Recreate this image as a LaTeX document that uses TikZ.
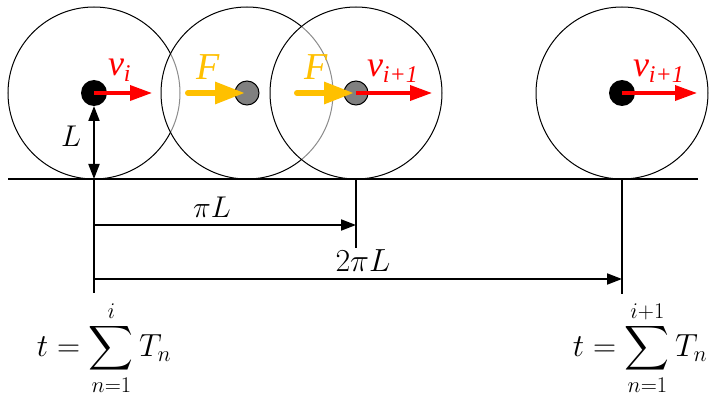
\documentclass[tikz,border=0pt]{standalone}
\usepackage{fix-cm}
\usepackage{amsmath}
\usepackage{fontspec}
\setmainfont{Liberation Serif}
\usetikzlibrary{arrows.meta}
\definecolor{vred}{RGB}{255,0,0}
\definecolor{fgold}{RGB}{255,192,0}
\newcommand{\vlabel}[1]{v\raisebox{-6pt}{\fontsize{24}{24}\selectfont #1}}
\newcommand{\bigsum}{\mathop{\vcenter{\hbox{\scalebox{1.25}{$\displaystyle\sum$}}}}\limits}

\begin{document}
\begin{tikzpicture}[x=1pt,y=-1pt,line width=2pt,>={Triangle[length=15pt,width=11pt]},
  wheel/.style={circle,draw,line width=1pt,inner sep=0pt,outer sep=0pt,minimum size=172pt,fill=white,fill opacity=0.55},
  mass/.style={circle,fill=black,inner sep=0pt,outer sep=0pt,minimum size=26pt},
  ghost/.style={circle,draw,line width=1pt,fill=gray,inner sep=0pt,minimum size=24pt},
  vel/.style={vred,line width=3.5pt,-{Triangle[length=22pt,width=15pt]}},
  force/.style={fgold,line width=6pt,line cap=round,-{Triangle[length=30pt,width=21pt]}},
  vlab/.style={vred,anchor=base west,inner sep=0pt,font=\fontsize{36}{40}\selectfont\itshape},
  flab/.style={fgold,anchor=base west,inner sep=0pt,font=\fontsize{38}{40}\selectfont\itshape},
  mlab/.style={inner sep=0pt,font=\fontsize{30}{34}\selectfont}]
\useasboundingbox (0,0) rectangle (716,404);
% wheels
\node[wheel] (w1) at (94,93) {};
\node[wheel] (w2) at (247,93) {};
\node[wheel] (w3) at (356,93) {};
\node[wheel] (w4) at (622,93) {};
% ground and marks
\coordinate (g0) at (8,179);
\coordinate (g5) at (698,179);
\draw (g0) -- (g5);
\coordinate (t1) at (94,293);
\coordinate (t3) at (356,248);
\coordinate (t4) at (622,294);
\draw (w1.south) -- (t1);
\draw (w3.south) -- (t3);
\draw (w4.south) -- (t4);
% masses
\node[mass] (m1) at (w1) {};
\node[ghost] (m2) at (w2) {};
\node[ghost] (m3) at (w3) {};
\node[mass] (m4) at (w4) {};
% velocities and forces
\coordinate (v1) at (152,93);
\coordinate (v3) at (432,93);
\coordinate (v4) at (697,93);
\coordinate (f2) at (188,93);
\coordinate (f3) at (297,93);
\draw[force,shorten >=2pt] (f2) -- (m2.center);
\draw[force,shorten >=2pt] (f3) -- (m3.center);
\draw[vel] (m1.center) -- (v1);
\draw[vel] (m3.center) -- (v3);
\draw[vel] (m4.center) -- (v4);
\node[vlab] (vi) at (107,76) {\vlabel{i}};
\node[vlab] (vj) at (366,77) {\vlabel{i+1}};
\node[vlab] (vk) at (632,77) {\vlabel{i+1}};
\node[flab] (F2) at (195,80) {F};
\node[flab] (F3) at (303,80) {F};
% distances
\draw[<->] (m1.south) -- (w1.south);
\node[mlab] (L) at (71,136) {$L$};
\coordinate (a1) at (94,225);
\coordinate (a3) at (356,225);
\coordinate (b1) at (94,279);
\coordinate (b4) at (622,279);
\draw[->] (a1) -- (a3);
\draw[->] (b1) -- (b4);
\node[mlab] (piL) at (212,207) {$\pi L$};
\node[mlab,font=\fontsize{32}{36}\selectfont] (twopiL) at (363,261) {$2\pi L$};
% times
\node[mlab,font=\fontsize{32}{36}\selectfont] (s1) at (104,348) {$t=\bigsum_{n=1}^{i}T_n$};
\node[mlab,font=\fontsize{32}{36}\selectfont] (s4) at (640,348) {$t=\bigsum_{n=1}^{i+1}T_n$};
\end{tikzpicture}
\end{document}
